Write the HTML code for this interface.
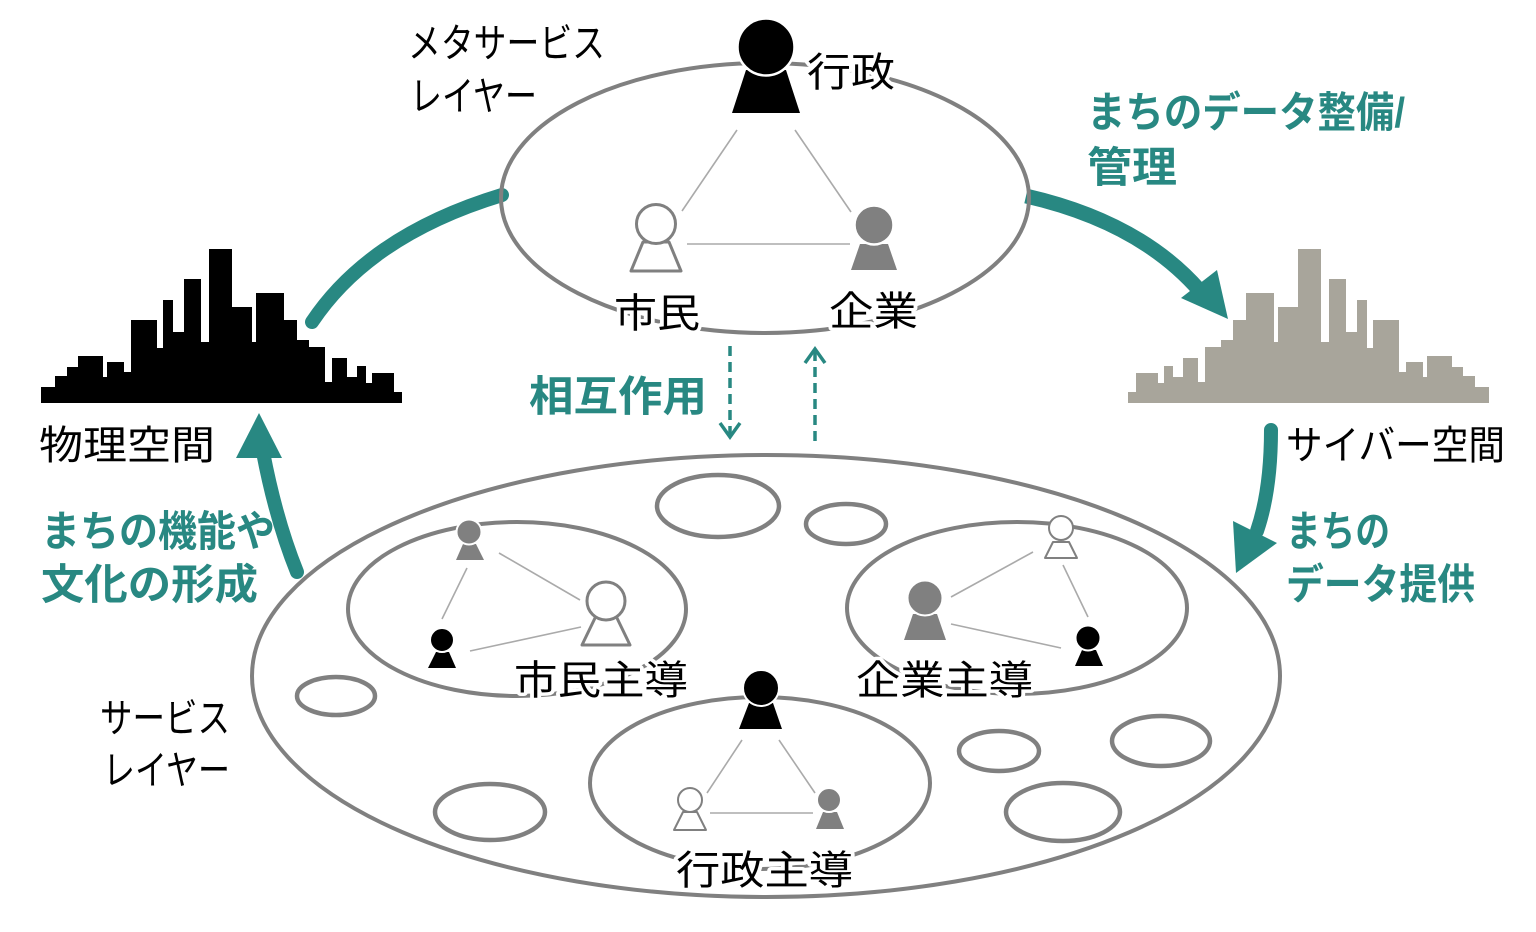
<!DOCTYPE html>
<html><head><meta charset="utf-8"><style>
html,body{margin:0;padding:0;background:#fff;}
svg{display:block;}
text{font-family:"Liberation Sans","Noto Sans CJK JP",sans-serif;}
.bk{fill:#000;font-size:40px;}
.halo{paint-order:stroke;stroke:#fff;stroke-width:7px;stroke-linejoin:round;}
.tl{fill:#288882;font-size:42px;font-weight:bold;}
</style></head><body>
<svg width="1536" height="932" viewBox="0 0 1536 932" xmlns="http://www.w3.org/2000/svg">
<rect width="1536" height="932" fill="#fff"/>

<!-- skylines -->
<polygon fill="#000" points="41,403 41,387 55,387 55,376 67,376 67,367 78,367 78,356 103,356 103,377 107,377 107,362 124,362 124,372 131,372 131,320 157,320 157,348 163,348 163,300 173,300 173,332 184,332 184,279 201,279 201,342 209,342 209,249 232,249 232,307 252,307 252,342 256,342 256,293 284,293 284,320 297,320 297,340 309,340 309,347 325,347 325,382 332,382 332,358 347,358 347,377 357,377 357,366 366,366 366,383 372,383 372,373 394,373 394,392 402,392 402,403"/>
<g transform="translate(1530,0) scale(-1,1)">
<polygon fill="#a8a59b" points="41,403 41,387 55,387 55,376 67,376 67,367 78,367 78,356 103,356 103,377 107,377 107,362 124,362 124,372 131,372 131,320 157,320 157,348 163,348 163,300 173,300 173,332 184,332 184,279 201,279 201,342 209,342 209,249 232,249 232,307 252,307 252,342 256,342 256,293 284,293 284,320 297,320 297,340 309,340 309,347 325,347 325,382 332,382 332,358 347,358 347,377 357,377 357,366 366,366 366,383 372,383 372,373 394,373 394,392 402,392 402,403"/>
</g>

<!-- teal arrows -->
<g fill="none" stroke="#288882" stroke-linecap="round">
<path d="M312,322 Q370,235 502,195" stroke-width="14"/>
<path d="M1026,196 Q1140,222 1200,291" stroke-width="15" stroke-linecap="butt"/>
<path d="M297,572 Q276,520 263,452" stroke-width="14"/>
<path d="M1271,430 Q1271,490 1257,531" stroke-width="14"/>
</g>
<g fill="#288882">
<polygon points="1228,319 1181,298 1217,270"/>
<polygon points="259,413 236,458 282,458"/>
<polygon points="1236,573 1233,521 1277,543"/>
</g>

<!-- dashed arrows -->
<g stroke="#288882" stroke-width="3.5" fill="none">
<line x1="730" y1="346" x2="730" y2="436" stroke-dasharray="10 6"/>
<polyline points="720,423 730,437 740,423"/>
<line x1="815" y1="441" x2="815" y2="350" stroke-dasharray="10 6"/>
<polyline points="805,363 815,349 825,363"/>
</g>

<!-- top ellipse -->
<ellipse cx="765" cy="198" rx="264" ry="135" fill="none" stroke="#808080" stroke-width="4"/>
<g stroke="#aaaaaa" stroke-width="1.6">
<line x1="737" y1="130" x2="682" y2="211"/>
<line x1="795" y1="130" x2="851" y2="212"/>
<line x1="687" y1="244" x2="850" y2="244"/>
</g>
<polygon points="746,70 786,70 800,113 732,113" fill="#000"/>
<circle cx="766" cy="47" r="28.5" fill="#000" stroke="#fff" stroke-width="2.5"/>
<polygon points="643,242 669,242 681,271 631,271" fill="#fff" stroke="#808080" stroke-width="3" stroke-linejoin="round"/>
<circle cx="656" cy="224" r="19.5" fill="#fff" stroke="#808080" stroke-width="3"/>
<polygon points="860,244 888,244 897,270 851,270" fill="#808080"/>
<circle cx="874" cy="225" r="19.5" fill="#808080" stroke="#fff" stroke-width="2.5"/>

<text class="bk" x="408" y="57" font-size="38" textLength="197" lengthAdjust="spacingAndGlyphs">メタサービス</text>
<text class="bk" x="410" y="110" font-size="38" textLength="127" lengthAdjust="spacingAndGlyphs">レイヤー</text>
<text class="bk halo" x="807" y="86" textLength="88" lengthAdjust="spacingAndGlyphs">行政</text>
<text class="bk halo" x="614" y="327" textLength="86" lengthAdjust="spacingAndGlyphs">市民</text>
<text class="bk halo" x="829" y="325" textLength="89" lengthAdjust="spacingAndGlyphs">企業</text>

<text class="tl" x="1087" y="127" textLength="318" lengthAdjust="spacingAndGlyphs">まちのデータ整備/</text>
<text class="tl" x="1087" y="182" textLength="90" lengthAdjust="spacingAndGlyphs">管理</text>
<text class="tl" x="529" y="411" textLength="178" lengthAdjust="spacingAndGlyphs">相互作用</text>
<text class="bk" x="39" y="459" font-size="42" textLength="176" lengthAdjust="spacingAndGlyphs">物理空間</text>
<text class="bk" x="1286" y="459" font-size="42" textLength="219" lengthAdjust="spacingAndGlyphs">サイバー空間</text>
<text class="tl" x="41" y="546" textLength="234" lengthAdjust="spacingAndGlyphs">まちの機能や</text>
<text class="tl" x="41" y="599" textLength="217" lengthAdjust="spacingAndGlyphs">文化の形成</text>
<text class="tl" x="1286" y="546" textLength="104" lengthAdjust="spacingAndGlyphs">まちの</text>
<text class="tl" x="1286" y="599" textLength="189" lengthAdjust="spacingAndGlyphs">データ提供</text>
<text class="bk" x="100" y="732" font-size="38" textLength="130" lengthAdjust="spacingAndGlyphs">サービス</text>
<text class="bk" x="103" y="784" font-size="38" textLength="127" lengthAdjust="spacingAndGlyphs">レイヤー</text>

<!-- bottom big ellipse -->
<ellipse cx="766" cy="676" rx="514" ry="221" fill="none" stroke="#808080" stroke-width="4"/>
<g fill="none" stroke="#808080" stroke-width="4.5">
<ellipse cx="718" cy="506" rx="61" ry="31"/>
<ellipse cx="846" cy="524" rx="40" ry="20"/>
<ellipse cx="336" cy="696" rx="39" ry="19"/>
<ellipse cx="490" cy="812" rx="55" ry="28"/>
<ellipse cx="999" cy="751" rx="40" ry="20"/>
<ellipse cx="1161" cy="741" rx="49" ry="25"/>
<ellipse cx="1063" cy="812" rx="57" ry="29"/>
<ellipse cx="517" cy="609" rx="169" ry="87" stroke-width="4"/>
<ellipse cx="1017" cy="608" rx="170" ry="86" stroke-width="4"/>
<ellipse cx="760" cy="783" rx="170" ry="86" stroke-width="4"/>
</g>

<!-- 市民主導 group -->
<g stroke="#aaaaaa" stroke-width="1.6">
<line x1="499" y1="553" x2="580" y2="600"/>
<line x1="467" y1="568" x2="442" y2="619"/>
<line x1="470" y1="651" x2="581" y2="627"/>
</g>
<polygon points="463,544 476,544 484,560 456,560" fill="#808080"/>
<circle cx="469" cy="532" r="12.5" fill="#808080" stroke="#fff" stroke-width="2"/>
<polygon points="436,652 449,652 456,668 428,668" fill="#000"/>
<circle cx="442" cy="640" r="12" fill="#000" stroke="#fff" stroke-width="2"/>
<polygon points="596,616 616,616 630,645 582,645" fill="#fff" stroke="#808080" stroke-width="3" stroke-linejoin="round"/>
<circle cx="606" cy="601" r="19" fill="#fff" stroke="#808080" stroke-width="3"/>
<text class="bk halo" x="514" y="694" textLength="174" lengthAdjust="spacingAndGlyphs">市民主導</text>

<!-- 企業主導 group -->
<g stroke="#aaaaaa" stroke-width="1.6">
<line x1="1033" y1="552" x2="951" y2="597"/>
<line x1="1063" y1="565" x2="1088" y2="617"/>
<line x1="951" y1="624" x2="1061" y2="648"/>
</g>
<polygon points="1053,542 1069,542 1077,558 1045,558" fill="#fff" stroke="#808080" stroke-width="2" stroke-linejoin="round"/>
<circle cx="1061" cy="528" r="12" fill="#fff" stroke="#808080" stroke-width="2"/>
<polygon points="913,614 937,614 946,640 904,640" fill="#808080"/>
<circle cx="925" cy="598" r="17.5" fill="#808080" stroke="#fff" stroke-width="2"/>
<polygon points="1082,650 1096,650 1103,666 1075,666" fill="#000"/>
<circle cx="1088" cy="638" r="12.5" fill="#000" stroke="#fff" stroke-width="2"/>
<text class="bk halo" x="856" y="694" textLength="177" lengthAdjust="spacingAndGlyphs">企業主導</text>

<!-- 行政主導 group -->
<g stroke="#aaaaaa" stroke-width="1.6">
<line x1="742" y1="740" x2="707" y2="793"/>
<line x1="779" y1="740" x2="815" y2="793"/>
<line x1="710" y1="813" x2="813" y2="813"/>
</g>
<polygon points="749,703 773,703 782,729 739,729" fill="#000"/>
<circle cx="761" cy="688" r="18" fill="#000" stroke="#fff" stroke-width="2"/>
<polygon points="683,812 697,812 706,830 674,830" fill="#fff" stroke="#808080" stroke-width="2" stroke-linejoin="round"/>
<circle cx="690" cy="800" r="12" fill="#fff" stroke="#808080" stroke-width="2"/>
<polygon points="823,812 837,812 844,829 816,829" fill="#808080"/>
<circle cx="829" cy="800" r="12" fill="#808080" stroke="#fff" stroke-width="2"/>
<text class="bk halo" x="676" y="884" font-size="42" textLength="177" lengthAdjust="spacingAndGlyphs">行政主導</text>
</svg>
</body></html>
